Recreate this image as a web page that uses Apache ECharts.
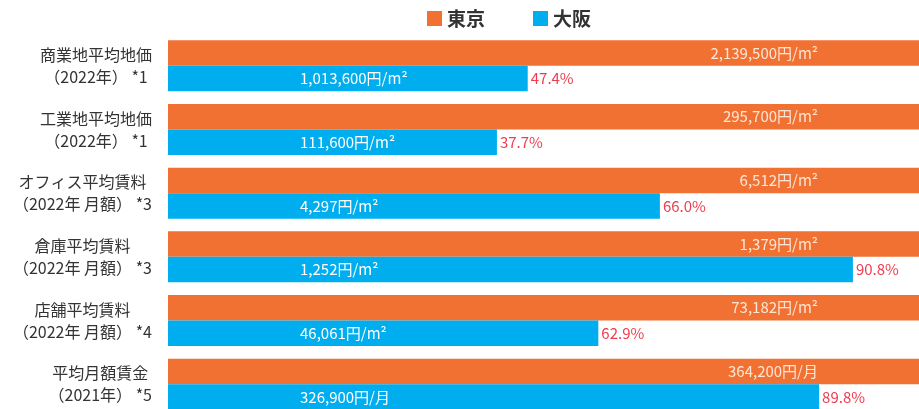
<!DOCTYPE html>
<html>
<head>
<meta charset="utf-8">
<script src="https://cdn.jsdelivr.net/npm/echarts/dist/echarts.min.js"></script>
<style>
  html, body { margin: 0; padding: 0; background: #fff; }
  #chart { width: 919px; height: 409px; }
</style>
</head>
<body>
<div id="chart"></div>
<script>
// data
var categories = [
  '商業地平均地価\n（2022年） *1',
  '工業地平均地価\n（2022年） *1',
  'オフィス平均賃料\n（2022年 月額） *3',
  '倉庫平均賃料\n（2022年 月額） *3',
  '店舗平均賃料\n（2022年 月額） *4',
  '平均月額賃金\n（2021年） *5'
]
var tokyoBar = [100, 100, 100, 100, 100, 100]
var osakaBar = [47.9, 43.8, 65.5, 91.2, 57.3, 86.7]
var tokyoLabels = ['2,139,500円/m²', '295,700円/m²', '6,512円/m²', '1,379円/m²', '73,182円/m²', '364,200円/月']
var osakaLabels = ['1,013,600円/m²', '111,600円/m²', '4,297円/m²', '1,252円/m²', '46,061円/m²', '326,900円/月']
var ratioLabels = ['47.4%', '37.7%', '66.0%', '90.8%', '62.9%', '89.8%']
var ratioAnchor = [0, 0, 0, 0, 0, 0]

var font = "'Noto Sans CJK JP', 'Noto Sans', sans-serif"

var myChart = echarts.init(document.getElementById('chart'))
var option = {
  animation: false,
  textStyle: { fontFamily: font },
  legend: {
    data: ['東京', '大阪'],
    left: 427,
    top: 9,
    padding: 0,
    icon: 'rect',
    itemWidth: 15,
    itemHeight: 15,
    itemGap: 48,
    textStyle: { fontSize: 19, fontWeight: 'bold', color: '#333' }
  },
  grid: {
    left: 168,
    right: 0,
    top: 34,
    height: 382,
    outerBoundsMode: 'none',
    containLabel: false
  },
  xAxis: {
    type: 'value',
    min: 0,
    max: 100,
    show: false
  },
  yAxis: {
    type: 'category',
    inverse: true,
    data: categories,
    axisLine: { show: false },
    axisTick: { show: false },
    splitLine: { show: false },
    axisLabel: {
      margin: 16,
      align: 'right',
      formatter: function (v) {
        return v.split('\n').map(function (s) { return '{a|' + s + '}' }).join('\n')
      },
      rich: {
        a: { align: 'center', fontSize: 16, lineHeight: 22, color: '#333', fontFamily: font }
      }
    }
  },
  series: [
    {
      name: '東京',
      type: 'bar',
      data: tokyoBar,
      barWidth: 25.5,
      barGap: '0%',
      itemStyle: { color: '#f17133' },
      label: {
        show: true,
        position: 'insideRight',
        distance: 101,
        color: '#fde6d6',
        fontSize: 15,
        formatter: function (p) { return tokyoLabels[p.dataIndex] }
      }
    },
    {
      name: '大阪',
      type: 'bar',
      stack: 'osaka',
      data: osakaBar,
      barWidth: 25.5,
      itemStyle: { color: '#00aeef' },
      label: {
        show: true,
        position: [132, '50%'],
        align: 'left',
        verticalAlign: 'middle',
        color: '#fff',
        fontSize: 15,
        formatter: function (p) { return osakaLabels[p.dataIndex] }
      }
    },
    {
      name: 'ratio',
      type: 'bar',
      stack: 'osaka',
      data: ratioAnchor,
      barWidth: 25.5,
      itemStyle: { color: 'transparent' },
      label: {
        show: true,
        position: 'right',
        distance: 3,
        color: '#ee3d4f',
        fontSize: 15,
        formatter: function (p) { return ratioLabels[p.dataIndex] }
      }
    }
  ]
}
myChart.setOption(option)
</script>
</body>
</html>
